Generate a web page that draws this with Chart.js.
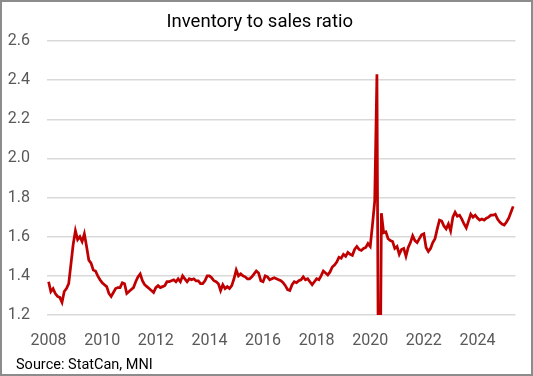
<!DOCTYPE html>
<html>
<head>
<meta charset="utf-8">
<script src="https://cdn.jsdelivr.net/npm/chart.js@4.4.1/dist/chart.umd.min.js"></script>
<style>
  html, body { margin: 0; padding: 0; background: #fff; }
  #wrap { position: relative; width: 533px; height: 376px; }
</style>
</head>
<body>
<div id="wrap"><canvas id="chartRatio" width="533" height="376"></canvas></div>
<script>
// monthly inventory-to-sales ratio, Jan 2008 .. May 2025
var firstYear = 2008;
var ratio = [
	1.37, 1.32, 1.335, 1.31, 1.295, 1.29, 1.265, 1.32, 1.335, 1.36, 1.46, 1.56,      // 2008
	1.63, 1.585, 1.60, 1.575, 1.615, 1.55, 1.48, 1.465, 1.43, 1.425, 1.40, 1.38,     // 2009
	1.365, 1.355, 1.345, 1.31, 1.295, 1.315, 1.335, 1.34, 1.34, 1.365, 1.36, 1.31,   // 2010
	1.32, 1.33, 1.34, 1.37, 1.395, 1.41, 1.375, 1.355, 1.345, 1.335, 1.325, 1.315,   // 2011
	1.34, 1.35, 1.34, 1.345, 1.35, 1.37, 1.37, 1.375, 1.38, 1.37, 1.385, 1.37,       // 2012
	1.40, 1.385, 1.37, 1.385, 1.38, 1.385, 1.375, 1.375, 1.36, 1.36, 1.375, 1.40,    // 2013
	1.40, 1.39, 1.375, 1.37, 1.36, 1.325, 1.355, 1.335, 1.345, 1.335, 1.35, 1.385,   // 2014
	1.43, 1.40, 1.41, 1.40, 1.395, 1.385, 1.385, 1.395, 1.41, 1.425, 1.415, 1.375,   // 2015
	1.37, 1.40, 1.395, 1.38, 1.385, 1.39, 1.385, 1.38, 1.375, 1.365, 1.35, 1.33,     // 2016
	1.325, 1.355, 1.37, 1.365, 1.375, 1.38, 1.395, 1.38, 1.385, 1.37, 1.355, 1.37,   // 2017
	1.385, 1.38, 1.40, 1.425, 1.415, 1.405, 1.42, 1.445, 1.455, 1.47, 1.495, 1.49,   // 2018
	1.51, 1.50, 1.52, 1.51, 1.505, 1.535, 1.55, 1.535, 1.53, 1.54, 1.545, 1.565,     // 2019
	1.55, 1.66, 1.78, 2.43, 0, 1.72, 1.62, 1.625, 1.59, 1.58, 1.575, 1.54,           // 2020 (blank month plotted as zero)
	1.55, 1.51, 1.535, 1.54, 1.50, 1.545, 1.57, 1.605, 1.58, 1.57, 1.59, 1.61,       // 2021
	1.615, 1.545, 1.525, 1.54, 1.57, 1.59, 1.64, 1.685, 1.68, 1.655, 1.64, 1.665,    // 2022
	1.63, 1.70, 1.725, 1.705, 1.71, 1.69, 1.665, 1.645, 1.68, 1.715, 1.70, 1.71,     // 2023
	1.695, 1.685, 1.69, 1.685, 1.695, 1.70, 1.71, 1.71, 1.715, 1.69, 1.675, 1.665,   // 2024
	1.66, 1.675, 1.695, 1.725, 1.755                                                 // 2025
];
var yearTicks = [2008, 2010, 2012, 2014, 2016, 2018, 2020, 2022, 2024];
var ratioTicks = [1.2, 1.4, 1.6, 1.8, 2.0, 2.2, 2.4, 2.6];
var sourceNote = 'Source: StatCan, MNI';

var points = ratio.map((v, i) => ({ x: firstYear + i / 12, y: v }));

// outer frame and the source line under the x axis
var framePlugin = {
	id: 'frame',
	afterDraw(chart) {
		let ctx = chart.ctx;
		ctx.save();
		ctx.strokeStyle = '#8c8c8c';
		ctx.lineWidth = 2;
		ctx.strokeRect(1, 1, chart.width - 2, chart.height - 2);
		ctx.fillStyle = '#000';
		ctx.font = '14.5px Roboto';
		ctx.textBaseline = 'middle';
		ctx.textAlign = 'left';
		ctx.fillText(sourceNote, 16, 365);
		ctx.restore();
	}
};

var tickFont = { family: 'Roboto', size: 16 };

new Chart($id('chartRatio').getContext('2d'), {
	type: 'line',
	data: {
		datasets: [{
			data: points,
			borderColor: '#C00000',
			borderWidth: 2.75,
			pointRadius: 0,
			tension: 0
		}]
	},
	options: {
		responsive: false,
		animation: false,
		layout: { padding: { left: 4, right: 17.5, top: 0, bottom: 20 } },
		plugins: {
			legend: { display: false },
			tooltip: { enabled: false },
			title: {
				display: true,
				text: 'Inventory to sales ratio',
				color: '#000',
				font: { family: 'Roboto', size: 18.5, weight: 'normal' },
				padding: { top: 11, bottom: 7.8 }
			}
		},
		scales: {
			x: {
				type: 'linear',
				min: 2007.94,
				max: 2025.42,
				grid: { display: false, drawTicks: false },
				border: { display: false },
				afterBuildTicks: (scale) => { scale.ticks = yearTicks.map(v => ({ value: v })); },
				afterFit: (scale) => { scale.height = 41; },
				ticks: {
					color: '#595959',
					font: tickFont,
					padding: 16,
					maxRotation: 0,
					autoSkip: false,
					callback: (v) => String(v)
				}
			},
			y: {
				min: 1.2,
				max: 2.6,
				grid: { color: '#d9d9d9', lineWidth: 1.5, drawTicks: false },
				border: { display: false },
				afterBuildTicks: (scale) => { scale.ticks = ratioTicks.map(v => ({ value: v })); },
				afterFit: (scale) => { scale.width = 43; },
				ticks: {
					color: '#595959',
					font: tickFont,
					padding: 17,
					callback: (v) => v.toFixed(1)
				}
			}
		}
	},
	plugins: [framePlugin]
});

function $id(id) { return document.getElementById(id); }
</script>
</body>
</html>
